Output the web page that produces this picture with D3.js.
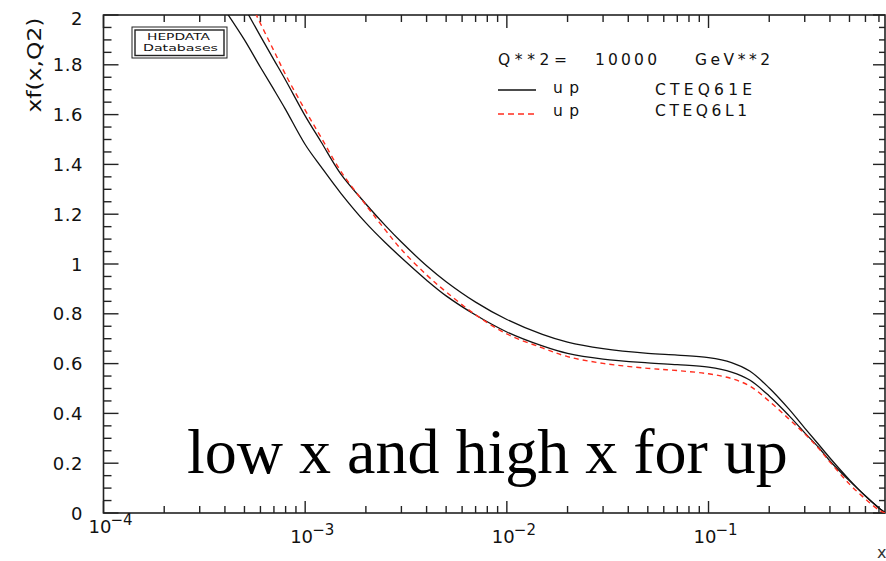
<!DOCTYPE html>
<html>
<head>
<meta charset="utf-8">
<script src="https://cdn.jsdelivr.net/npm/d3@7"></script>
<style>
html,body{margin:0;padding:0;background:#fff;}
svg{display:block;}
</style>
</head>
<body>
<svg id="chart" width="886" height="561"></svg>
<script>
// ---- data ----
const xValues = [4e-4,5e-4,6e-4,7e-4,8e-4,1e-3,1.2e-3,1.5e-3,2e-3,2.5e-3,3e-3,4e-3,5e-3,7e-3,
  1e-2,1.5e-2,2e-2,3e-2,5e-2,7e-2,0.1,0.13,0.16,0.2,0.25,0.3,0.35,0.4,0.5,0.6,0.7,0.75];
// CTEQ61E up (lower band edge)
const cteq61eLow = [2.02,1.90,1.79,1.70,1.62,1.48,1.39,1.285,1.165,1.085,1.025,0.935,0.872,0.795,
  0.727,0.671,0.641,0.618,0.603,0.596,0.586,0.566,0.534,0.470,0.392,0.322,0.265,0.209,0.129,0.068,0.020,0.002];
// CTEQ61E up (upper band edge)
const cteq61eHigh = [2.17,2.03,1.915,1.82,1.738,1.595,1.49,1.362,1.241,1.154,1.088,0.993,0.929,0.847,
  0.777,0.717,0.686,0.660,0.641,0.634,0.624,0.604,0.570,0.502,0.418,0.341,0.277,0.221,0.133,0.068,0.020,0.002];
// CTEQ6L1 up
const cteq6l1 = [2.27,2.10,1.966,1.856,1.760,1.618,1.508,1.373,1.237,1.136,1.058,0.956,0.888,0.796,
  0.719,0.663,0.628,0.601,0.581,0.572,0.559,0.540,0.510,0.449,0.378,0.318,0.261,0.205,0.116,0.056,0.012,0.0];

const yTickValues = [0,0.2,0.4,0.6,0.8,1,1.2,1.4,1.6,1.8,2];
const yTickLabels = ["0","0.2","0.4","0.6","0.8","1","1.2","1.4","1.6","1.8","2"];
const xDecades = [1e-4,1e-3,1e-2,1e-1];
const xDecadeExps = ["\u22124","\u22123","\u22122","\u22121"];
const legendHeader = ["Q**2=","10000","GeV**2"];
const legendNames = ["up","up"];
const legendPdfs = ["CTEQ61E","CTEQ6L1"];
const overlayText = "low x and high x for up";

// ---- layout ----
const L = 103.5, R = 885, T = 15, B = 513;
const svg = d3.select("#chart");
const x = d3.scaleLog().domain([1e-4, 0.75]).range([L, R]);
const y = d3.scaleLinear().domain([0, 2]).range([B, T]);
const labelFont = "'DejaVu Sans', sans-serif";

svg.append("defs").append("clipPath").attr("id","plotclip")
  .append("rect").attr("x",L).attr("y",T).attr("width",R-L).attr("height",B-T);

// minor ticks
const xMinor = [];
for (let e=-4; e<0; e++) for (let m=2; m<=9; m++) { const v = m*Math.pow(10,e); if (v<=0.75) xMinor.push(v); }
const yMinor = d3.range(0, 2.0001, 0.05).filter(v => Math.abs(v*5 - Math.round(v*5))>1e-6);

const ax = svg.append("g").attr("stroke","#222").attr("stroke-width",1.4);
xDecades.forEach(v=>{
  ax.append("line").attr("x1",x(v)).attr("x2",x(v)).attr("y1",B).attr("y2",B-12);
  ax.append("line").attr("x1",x(v)).attr("x2",x(v)).attr("y1",T).attr("y2",T+13);
});
xMinor.forEach(v=>{
  ax.append("line").attr("x1",x(v)).attr("x2",x(v)).attr("y1",B).attr("y2",B-7);
  ax.append("line").attr("x1",x(v)).attr("x2",x(v)).attr("y1",T).attr("y2",T+7);
});
yTickValues.forEach(v=>{
  ax.append("line").attr("x1",L).attr("x2",L+15).attr("y1",y(v)).attr("y2",y(v));
  ax.append("line").attr("x1",R).attr("x2",R-12).attr("y1",y(v)).attr("y2",y(v));
});
yMinor.forEach(v=>{
  ax.append("line").attr("x1",L).attr("x2",L+8).attr("y1",y(v)).attr("y2",y(v));
  ax.append("line").attr("x1",R).attr("x2",R-6).attr("y1",y(v)).attr("y2",y(v));
});
svg.append("rect").attr("x",L).attr("y",T).attr("width",R-L).attr("height",B-T)
  .attr("fill","none").attr("stroke","#222").attr("stroke-width",1.6);

// y tick labels
yTickValues.forEach((v,i)=>{
  let yy = y(v) + 6.5;
  if (i === yTickValues.length-1) yy += 3;
  svg.append("text").attr("x",83).attr("y",yy).attr("text-anchor","end")
    .attr("font-family",labelFont).attr("font-size",18).attr("letter-spacing",0.5)
    .attr("fill","#111").text(yTickLabels[i]);
});
// x tick labels
xDecades.forEach((v,i)=>{
  const base = i===0 ? 533 : 543;
  const t = svg.append("text").attr("font-family",labelFont).attr("fill","#111");
  t.append("tspan").attr("x",x(v)-15).attr("y",base).attr("font-size",18).text("10");
  t.append("tspan").attr("x",x(v)+7).attr("y",base-8).attr("font-size",15).text(xDecadeExps[i]);
});
// axis titles
svg.append("text").attr("transform","translate(41,65) rotate(-90)")
  .attr("text-anchor","middle").attr("font-family",labelFont).attr("font-size",20)
  .attr("textLength",95).attr("lengthAdjust","spacingAndGlyphs").attr("fill","#111").text("xf(x,Q2)");
svg.append("text").attr("x",877).attr("y",558).attr("font-family",labelFont)
  .attr("font-size",16).attr("fill","#333").text("x");

// curves
const line = d3.line().x(d=>x(d[0])).y(d=>y(d[1])).curve(d3.curveCatmullRom.alpha(0.5));
const plot = svg.append("g").attr("clip-path","url(#plotclip)");
plot.append("path").datum(xValues.map((v,i)=>[v,cteq61eLow[i]])).attr("d",line)
  .attr("fill","none").attr("stroke","#111").attr("stroke-width",1.3);
plot.append("path").datum(xValues.map((v,i)=>[v,cteq61eHigh[i]])).attr("d",line)
  .attr("fill","none").attr("stroke","#111").attr("stroke-width",1.3);
plot.append("path").datum(xValues.map((v,i)=>[v,cteq6l1[i]])).attr("d",line)
  .attr("fill","none").attr("stroke","#ff2d1e").attr("stroke-width",1.4).attr("stroke-dasharray","5,4");

// HEPDATA logo
svg.append("rect").attr("x",132).attr("y",27).attr("width",95).attr("height",31)
  .attr("fill","none").attr("stroke","#222").attr("stroke-width",1);
svg.append("rect").attr("x",135).attr("y",30).attr("width",89).attr("height",25.5)
  .attr("fill","none").attr("stroke","#222").attr("stroke-width",1.4);
svg.append("text").attr("x",147).attr("y",40).attr("font-family",labelFont).attr("font-size",9)
  .attr("textLength",63).attr("lengthAdjust","spacingAndGlyphs").attr("fill","#111").text("HEPDATA");
svg.append("text").attr("x",143).attr("y",50.5).attr("font-family",labelFont).attr("font-size",9)
  .attr("textLength",75).attr("lengthAdjust","spacingAndGlyphs").attr("fill","#111").text("Databases");

// legend
const lg = svg.append("g").attr("font-family",labelFont).attr("font-size",15.5).attr("fill","#111");
lg.append("text").attr("x",498).attr("y",65).attr("textLength",69).attr("lengthAdjust","spacing").text(legendHeader[0]);
lg.append("text").attr("x",595).attr("y",65).attr("textLength",62).attr("lengthAdjust","spacing").text(legendHeader[1]);
lg.append("text").attr("x",695).attr("y",65).attr("textLength",75).attr("lengthAdjust","spacing").text(legendHeader[2]);
svg.append("line").attr("x1",498).attr("x2",536).attr("y1",90).attr("y2",90).attr("stroke","#111").attr("stroke-width",1.3);
svg.append("line").attr("x1",498).attr("x2",537).attr("y1",114).attr("y2",114).attr("stroke","#ff2d1e")
  .attr("stroke-width",1.4).attr("stroke-dasharray","6,4");
lg.append("text").attr("x",553).attr("y",93).attr("textLength",26).attr("lengthAdjust","spacing").text(legendNames[0]);
lg.append("text").attr("x",553).attr("y",116).attr("textLength",26).attr("lengthAdjust","spacing").text(legendNames[1]);
lg.append("text").attr("x",655).attr("y",95).attr("textLength",97).attr("lengthAdjust","spacing").text(legendPdfs[0]);
lg.append("text").attr("x",655).attr("y",116).attr("textLength",92).attr("lengthAdjust","spacing").text(legendPdfs[1]);

// overlay caption
svg.append("text").attr("x",187).attr("y",473).attr("font-family","'Liberation Serif','Times New Roman',serif")
  .attr("font-size",64).attr("fill","#000").text(overlayText);
</script>
</body>
</html>
